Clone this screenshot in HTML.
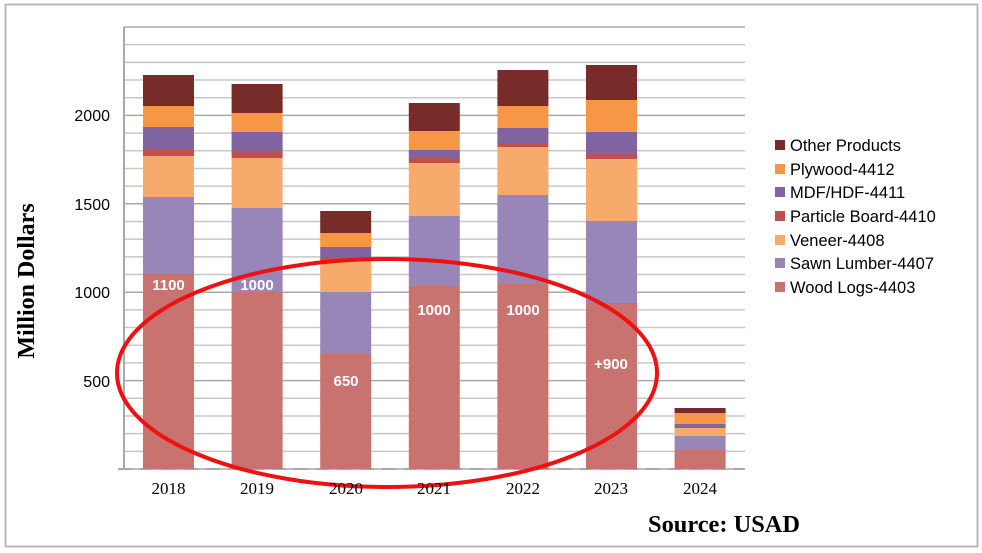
<!DOCTYPE html>
<html><head><meta charset="utf-8"><style>
body{margin:0;background:#fff;}
svg{display:block;}
</style></head><body>
<svg width="982" height="553" viewBox="0 0 982 553" xmlns="http://www.w3.org/2000/svg">
<rect x="5.5" y="4.5" width="972" height="542" fill="#fff" stroke="#b8b8b8" stroke-width="2"/>
<g id="grid" stroke="#c8c8c8" stroke-width="1.5">
</g>
<script>
var g=document.getElementById('grid');
for(var i=0;i<=25;i++){var y=469-i*17.68;var l=document.createElementNS('http://www.w3.org/2000/svg','line');l.setAttribute('x1',124);l.setAttribute('x2',745);l.setAttribute('y1',y);l.setAttribute('y2',y);if(i%5==0)l.setAttribute('stroke','#a8a8a8');g.appendChild(l);}
</script>
<line x1="124" y1="27" x2="124" y2="469" stroke="#a8a8a8" stroke-width="2"/>
<line x1="118" y1="469" x2="745" y2="469" stroke="#a8a8a8" stroke-width="2" stroke-dasharray="14,8"/>
<g id="bars"></g>
<script>
var cols=["#c97370","#9986b8","#f6aa6c","#c0504d","#8064a2","#f79646","#772c2a"];
var tops=[[273,197,156,150,127,106,75],[292,208,158,151,132,113,84],[354,292,261,258,247,233,211],[286,216,163,158,150,131,103],[284,195,147,143,128,106,70],[303,221,159,154,132,100,65],[450,436,428,428,424,413,408]];
var b=document.getElementById('bars');
for(var k=0;k<7;k++){var x=143+k*88.6;var prev=469;for(var s=0;s<7;s++){var t=tops[k][s];if(prev-t>0){var r=document.createElementNS('http://www.w3.org/2000/svg','rect');r.setAttribute('x',x);r.setAttribute('width',51);r.setAttribute('y',t);r.setAttribute('height',prev-t);r.setAttribute('fill',cols[s]);b.appendChild(r);}prev=t;}}
</script>
<g font-family="Liberation Sans, sans-serif" font-size="15" font-weight="bold" fill="#fff" text-anchor="middle">
<text x="168.5" y="290">1100</text>
<text x="257" y="290">1000</text>
<text x="346" y="386">650</text>
<text x="434" y="315">1000</text>
<text x="523" y="315">1000</text>
<text x="611" y="369">+900</text>
</g>
<ellipse cx="387" cy="373" rx="270" ry="114" fill="none" stroke="#ee1111" stroke-width="4"/>
<g font-family="Liberation Sans, sans-serif" font-size="16" fill="#000" text-anchor="end">
<text x="110" y="121">2000</text>
<text x="110" y="210">1500</text>
<text x="110" y="298">1000</text>
<text x="110" y="387">500</text>
</g>
<g font-family="Liberation Serif, serif" font-size="17" fill="#000" text-anchor="middle">
<text x="168.5" y="494">2018</text><text x="257" y="494">2019</text><text x="346" y="494">2020</text><text x="434" y="494">2021</text><text x="523" y="494">2022</text><text x="611" y="494">2023</text><text x="700" y="494">2024</text>
</g>
<text transform="translate(34,281) rotate(-90)" font-family="Liberation Serif, serif" font-size="24" font-weight="bold" text-anchor="middle">Million Dollars</text>
<text x="648" y="532" font-family="Liberation Serif, serif" font-size="24" font-weight="bold" textLength="152" lengthAdjust="spacingAndGlyphs">Source: USAD</text>
<g font-family="Liberation Sans, sans-serif" font-size="16.5" fill="#000">
<rect x="775" y="140" width="10" height="10" fill="#772c2a"/><text x="790" y="151">Other Products</text>
<rect x="775" y="164" width="10" height="10" fill="#f79646"/><text x="790" y="175">Plywood-4412</text>
<rect x="775" y="187" width="10" height="10" fill="#8064a2"/><text x="790" y="198">MDF/HDF-4411</text>
<rect x="775" y="211" width="10" height="10" fill="#c0504d"/><text x="790" y="222">Particle Board-4410</text>
<rect x="775" y="235" width="10" height="10" fill="#f6aa6c"/><text x="790" y="246">Veneer-4408</text>
<rect x="775" y="258" width="10" height="10" fill="#9986b8"/><text x="790" y="269">Sawn Lumber-4407</text>
<rect x="775" y="282" width="10" height="10" fill="#c97370"/><text x="790" y="293">Wood Logs-4403</text>
</g>
</svg>
</body></html>
